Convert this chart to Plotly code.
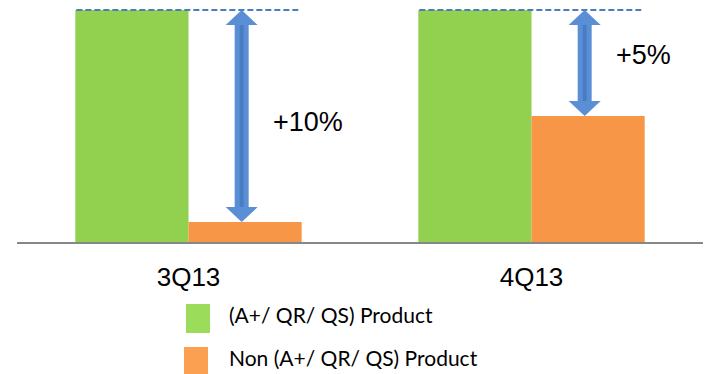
import plotly.graph_objects as go

categories = ["3Q13", "4Q13"]
series_names = ["(A+/ QR/ QS) Product", "Non (A+/ QR/ QS) Product"]
qualified = [100, 100]
non_qualified = [8.6, 54.3]
gap_labels = ["+10%", "+5%"]

GREEN = "#92D050"
ORANGE = "#F79646"
LEG_GREEN = "#9BDD5A"
LEG_ORANGE = "#FBA050"
BLUE = "#5A8FD6"
BLUE_DARK = "#4A7CC4"
DASH = "#4A7CC0"
SANS = "Liberation Sans"

W, H = 704, 374
ML, MR, MT, MB = 17, 1, 5, 132
YMAX = 102.2
plot_h = H - MT - MB
ppu = plot_h / YMAX  # pixels per y unit
BAR_OFF = 0.165
ARROW_OFF = 0.155
LABEL_SHIFT = [-2.6, 3.5]

xs = list(range(len(categories)))

fig = go.Figure()
fig.add_trace(go.Bar(x=xs, y=qualified, name=series_names[0], marker_color=GREEN,
                     marker_line_width=0))
fig.add_trace(go.Bar(x=xs, y=non_qualified, name=series_names[1], marker_color=ORANGE,
                     marker_line_width=0))

shapes = []
annotations = []
for i, (g, o, lab) in enumerate(zip(qualified, non_qualified, gap_labels)):
    # dashed reference line at top of the qualified bar
    shapes.append(dict(type="line", xref="x", yref="y",
                       x0=i - 2 * BAR_OFF + 0.003, x1=i + 2 * BAR_OFF - 0.01,
                       y0=g, y1=g, line=dict(color=DASH, width=2, dash="6px,3px")))
    ax = i + ARROW_OFF
    head_h = 15
    # shaft
    shapes.append(dict(type="line", xref="x", yref="y", x0=ax, x1=ax,
                       y0=o + (head_h - 1) / ppu, y1=g - (head_h - 1) / ppu,
                       line=dict(color=BLUE, width=14)))
    shapes.append(dict(type="line", xref="x", yref="y", x0=ax, x1=ax,
                       y0=o + (head_h - 1) / ppu, y1=g - (head_h - 1) / ppu,
                       line=dict(color=BLUE_DARK, width=4)))
    # heads
    shapes.append(dict(type="path", xref="x", yref="y", xsizemode="pixel", ysizemode="pixel",
                       xanchor=ax, yanchor=g,
                       path=f"M0,0 L-16,-{head_h} L16,-{head_h} Z",
                       fillcolor=BLUE, line=dict(width=0)))
    shapes.append(dict(type="path", xref="x", yref="y", xsizemode="pixel", ysizemode="pixel",
                       xanchor=ax, yanchor=o,
                       path=f"M0,0 L-16,{head_h} L16,{head_h} Z",
                       fillcolor=BLUE, line=dict(width=0)))
    mid = (g + o) / 2
    annotations.append(dict(x=i + 0.24, y=mid + LABEL_SHIFT[i], xref="x", yref="y",
                            text=lab, showarrow=False, xanchor="left", yanchor="middle",
                            font=dict(family=SANS, size=27, color="#000000")))

# manual legend (pixel positions converted to paper coords)
def px_x(p):
    return (p - ML) / (W - ML - MR)

def px_y(p):
    return (H - MB - p) / plot_h

legend_items = [(series_names[0], LEG_GREEN, 186, 304, 314),
                (series_names[1], LEG_ORANGE, 184, 347, 357)]
for name, col, lx, ly, ty in legend_items:
    shapes.append(dict(type="rect", xref="paper", yref="paper",
                       x0=px_x(lx), x1=px_x(lx + 24), y0=px_y(ly), y1=px_y(ly + 29),
                       fillcolor=col, line=dict(width=0)))
    annotations.append(dict(x=px_x(227), y=px_y(ty), xref="paper", yref="paper",
                            text=name, showarrow=False, xanchor="left", yanchor="middle",
                            font=dict(family="Lato", size=21, color="#000000")))

fig.update_layout(
    width=W, height=H,
    margin=dict(l=ML, r=MR, t=MT, b=MB),
    barmode="group", bargap=0.34, bargroupgap=0,
    plot_bgcolor="white", paper_bgcolor="white",
    showlegend=False,
    shapes=shapes, annotations=annotations,
    xaxis=dict(range=[-0.5, 1.5], tickmode="array", tickvals=xs, ticktext=categories,
               showline=True, linecolor="#878787", linewidth=2, showgrid=False, zeroline=False,
               ticks="outside", ticklen=11, tickcolor="rgba(0,0,0,0)",
               tickfont=dict(family=SANS, size=26, color="#000000")),
    yaxis=dict(range=[0, YMAX], visible=False, showgrid=False, zeroline=False),
)

fig.write_html("out.html")
